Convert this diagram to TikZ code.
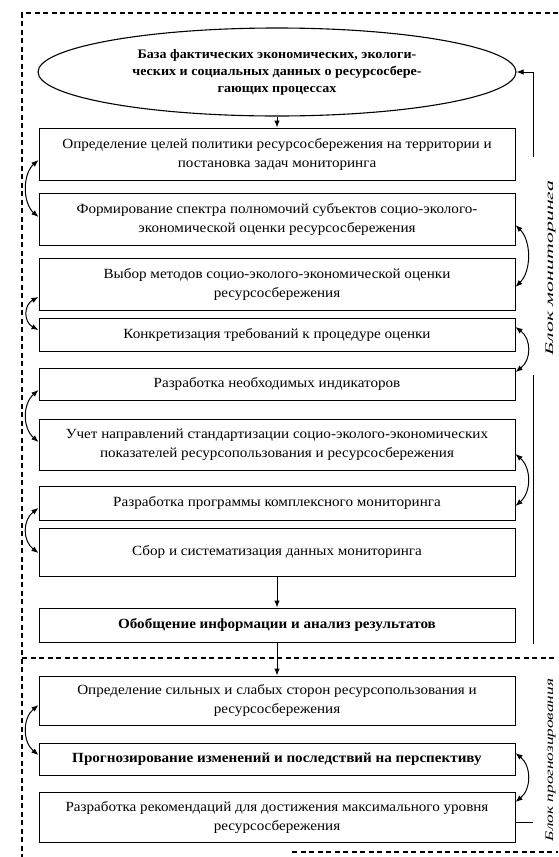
\documentclass[tikz,border=0pt]{standalone}
\usepackage{fontspec}
\setmainfont[FakeStretch=1.08]{Liberation Serif}
\newfontfamily\sidefont{Liberation Serif}
\usetikzlibrary{arrows.meta,shapes.geometric}
\tikzset{
  box/.style={draw, line width=1pt, minimum width=476pt, inner sep=0pt, align=center,
              font=\fontsize{14}{19}\selectfont},
  boldbox/.style={box, font=\bfseries\fontsize{14}{19}\selectfont},
  ellnode/.style={draw, ellipse, line width=1.1pt, minimum width=478pt, minimum height=88pt,
              inner sep=0pt, align=center, font=\bfseries\fontsize{13}{17}\selectfont},
  arr/.style={line width=1pt, -{Latex[length=7pt,width=5.5pt]}},
  dbl/.style={line width=1pt, {Latex[length=7pt,width=5.5pt]}-{Latex[length=7pt,width=5.5pt]}},
  plain/.style={line width=1pt},
  frame/.style={line width=1.1pt, dash pattern=on 5pt off 3.5pt},
  sidelabel/.style={rotate=90, anchor=base, inner sep=0pt, font=\sidefont\itshape\fontsize{11.5}{13}\selectfont}
}
\begin{document}
\begin{tikzpicture}[x=1pt,y=-1pt]
\useasboundingbox (0,0) rectangle (558,857);
\clip (0,0) rectangle (558,857);

% frame
\draw[frame] (558,13) -- (22,13) -- (22,857);
\draw[frame] (22,658) -- (558,658);
\draw[frame] (292,852) -- (558,852);

% nodes
\node[ellnode] (ell) at (277,72) {База фактических экономических, экологи-\\ческих и социальных данных о ресурсосбере-\\гающих процессах};
\node[box, minimum height=52pt] (b1) at (277,154) {Определение целей политики ресурсосбережения на территории и\\постановка задач мониторинга};
\node[box, minimum height=52pt] (b2) at (277,219) {Формирование спектра полномочий субъектов социо-эколого-\\экономической оценки ресурсосбережения};
\node[box, minimum height=52pt] (b3) at (277,284) {Выбор методов социо-эколого-экономической оценки\\ресурсосбережения};
\node[box, minimum height=33pt] (b4) at (277,334.5) {Конкретизация требований к процедуре оценки};
\node[box, minimum height=32pt] (b5) at (277,384) {Разработка необходимых индикаторов};
\node[box, minimum height=51pt] (b6) at (277,444.5) {Учет направлений стандартизации социо-эколого-экономических\\показателей ресурсопользования и ресурсосбережения};
\node[box, minimum height=34pt] (b7) at (277,503) {Разработка программы комплексного мониторинга};
\node[box, minimum height=48pt] (b8) at (277,552) {Сбор и систематизация данных мониторинга};
\node[boldbox, minimum height=34pt] (b9) at (277,625) {Обобщение информации и анализ результатов};
\node[box, minimum height=49pt] (b10) at (277,700.5) {Определение сильных и слабых сторон ресурсопользования и\\ресурсосбережения};
\node[boldbox, minimum height=32pt] (b11) at (277,759) {Прогнозирование изменений и последствий на перспективу};
\node[box, minimum height=50pt] (b12) at (277,817) {Разработка рекомендаций для достижения максимального уровня\\ресурсосбережения};

% side labels
\node[sidelabel] (lab1) at (553,268) {\scalebox{1.9}[1]{Блок мониторинга}};
\node[sidelabel] (lab2) at (553,760) {\scalebox{1.5}[1]{Блок прогнозирования}};

% straight arrows
\draw[arr] (ell.south) -- (b1.north);
\draw[arr] (b8.south) -- (b9.north);
\draw[arr] (b9.south) -- (b10.north);

% feedback line on the right
\coordinate (fbA) at (533,157);
\coordinate (fbB) at (533,375);
\coordinate (fbC) at (533,644);
\coordinate (fbD) at (533,822);
\draw[arr] (fbA) |- (ell.east);
\draw[plain] (fbB) -- (fbC);
\draw[plain] ([yshift=-5pt]b12.east) -- (fbD);

% curved double arrows, left side
\draw[dbl] ([yshift=-6pt]b1.west) .. controls +(-16,14) and +(-16,-14) .. ([yshift=2pt]b2.west);
\draw[dbl] ([yshift=-13pt]b3.west) .. controls +(-15,8) and +(-15,-8) .. ([yshift=4.5pt]b4.west);
\draw[dbl] ([yshift=-6pt]b5.west) .. controls +(-16,14) and +(-16,-14) .. ([yshift=2.5pt]b6.west);
\draw[dbl] ([yshift=-5pt]b7.west) .. controls +(-16,12) and +(-16,-12) .. ([yshift=-1pt]b8.west);
\draw[dbl] ([yshift=-4.5pt]b10.west) .. controls +(-16,13) and +(-16,-13) .. ([yshift=4pt]b11.west);

% curved double arrows, right side
\draw[dbl] ([yshift=-6pt]b2.east) .. controls +(16,16) and +(16,-16) .. ([yshift=-3pt]b3.east);
\draw[dbl] ([yshift=7.5pt]b4.east) .. controls +(16,12) and +(16,-12) .. ([yshift=12pt]b5.east);
\draw[dbl] ([yshift=-9.5pt]b6.east) .. controls +(16,14) and +(16,-14) .. ([yshift=-3pt]b7.east);
\draw[dbl] ([yshift=6pt]b11.east) .. controls +(16,13) and +(16,-13) .. ([yshift=15pt]b12.east);
\end{tikzpicture}
\end{document}
